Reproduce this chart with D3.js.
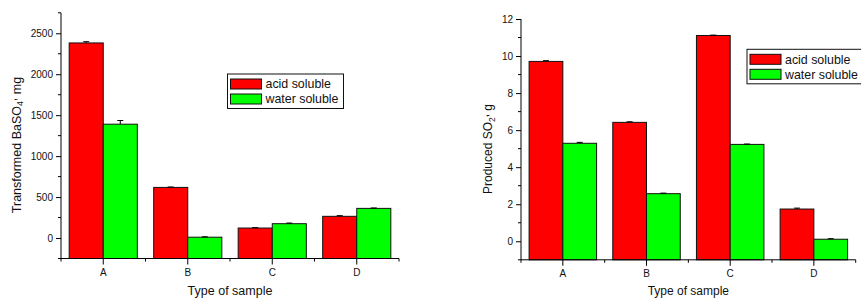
<!DOCTYPE html>
<html>
<head>
<meta charset="utf-8">
<script src="https://cdn.jsdelivr.net/npm/d3@7"></script>
<style>
  html, body { margin: 0; padding: 0; background: #fff; }
  svg { display: block; font-family: "Liberation Sans", Arial, sans-serif; }
</style>
</head>
<body>
<svg id="chart" width="861" height="298"></svg>
<script>
// ---------- data ----------
const categories = ["A", "B", "C", "D"];
const seriesNames = ["acid soluble", "water soluble"];
const seriesColors = ["#ff0000", "#00ff00"];

// Left panel: Transformed BaSO4, mg
const baso4Acid = [2382, 618, 122, 265];
const baso4Water = [1390, 10, 175, 362];
const baso4AcidErr = [15, 5, 5, 8];
const baso4WaterErr = [45, 5, 8, 5];
const baso4Ticks = [0, 500, 1000, 1500, 2000, 2500];
const baso4MinorTicks = [-250, 250, 750, 1250, 1750, 2250, 2750];

// Right panel: Produced SO2, g
const so2Acid = [9.71, 6.42, 11.11, 1.74];
const so2Water = [5.29, 2.57, 5.23, 0.11];
const so2AcidErr = [0.04, 0.03, 0.02, 0.05];
const so2WaterErr = [0.05, 0.03, 0.02, 0.03];
const so2Ticks = [0, 2, 4, 6, 8, 10, 12];
const so2MinorTicks = [-1, 1, 3, 5, 7, 9, 11];

const xTitle = "Type of sample";

// ---------- drawing ----------
const svg = d3.select("#chart");

function drawPanel(p) {
  const g = svg.append("g");
  const x = d3.scaleBand().domain(categories).range([p.x0, p.x1]).padding(0);
  const xs = d3.scaleBand().domain(seriesNames).range([0, x.bandwidth()])
    .paddingInner(0).paddingOuter(0.24);
  const y = d3.scaleLinear().domain(p.domain).range([p.yBottom, p.yTop]);

  const rows = categories.map((c, i) => ({
    cat: c,
    vals: [
      { s: seriesNames[0], v: p.acid[i], e: p.acidErr[i], col: seriesColors[0] },
      { s: seriesNames[1], v: p.water[i], e: p.waterErr[i], col: seriesColors[1] }
    ]
  }));

  const grp = g.selectAll("g.cat").data(rows).join("g")
    .attr("transform", d => `translate(${x(d.cat)},0)`);

  grp.selectAll("rect").data(d => d.vals).join("rect")
    .attr("x", d => xs(d.s))
    .attr("width", xs.bandwidth())
    .attr("y", d => y(d.v))
    .attr("height", d => y(p.domain[0]) - y(d.v))
    .attr("fill", d => d.col)
    .attr("stroke", "#111")
    .attr("stroke-width", 1);

  // error bars (upper half visible)
  const eb = grp.selectAll("g.err").data(d => d.vals).join("g");
  eb.append("line")
    .attr("x1", d => xs(d.s) + xs.bandwidth() / 2)
    .attr("x2", d => xs(d.s) + xs.bandwidth() / 2)
    .attr("y1", d => y(d.v))
    .attr("y2", d => y(d.v + d.e))
    .attr("stroke", "#000").attr("stroke-width", 1);
  eb.append("line")
    .attr("x1", d => xs(d.s) + xs.bandwidth() / 2 - 3)
    .attr("x2", d => xs(d.s) + xs.bandwidth() / 2 + 3)
    .attr("y1", d => y(d.v + d.e))
    .attr("y2", d => y(d.v + d.e))
    .attr("stroke", "#000").attr("stroke-width", 1);

  // y axis
  const ya = g.append("g").attr("transform", `translate(${p.x0},0)`)
    .call(d3.axisLeft(y).tickValues(p.ticks).tickSize(5).tickPadding(3).tickFormat(d3.format("d")));
  ya.select(".domain").attr("d", `M0,${y(p.domain[0])}V${y(p.domain[1])}`).attr("stroke", "#000");
  ya.selectAll(".tick text").attr("font-size", "10px").attr("fill", "#111")
    .attr("font-family", '"Liberation Sans", Arial, sans-serif');
  ya.selectAll(".tick line").attr("stroke", "#000");
  g.append("g").selectAll("line").data(p.minor).join("line")
    .attr("x1", p.x0 - 3).attr("x2", p.x0)
    .attr("y1", d => y(d)).attr("y2", d => y(d))
    .attr("stroke", "#000");

  // x axis
  const xa = g.append("g").attr("transform", `translate(0,${y(p.domain[0])})`)
    .call(d3.axisBottom(x).tickSize(6).tickPadding(4));
  xa.select(".domain").attr("d", `M${p.x0},0H${p.x1}`).attr("stroke", "#000");
  xa.selectAll(".tick text").attr("font-size", "10px").attr("fill", "#111")
    .attr("font-family", '"Liberation Sans", Arial, sans-serif');
  xa.selectAll(".tick line").attr("stroke", "#000");
  const edges = categories.map(c => x(c)).concat([x(categories[categories.length - 1]) + x.bandwidth()]);
  xa.append("g").selectAll("line").data(edges).join("line")
    .attr("x1", d => d).attr("x2", d => d)
    .attr("y1", 0).attr("y2", 3)
    .attr("stroke", "#000");

  // x title
  g.append("text")
    .attr("x", (p.x0 + p.x1) / 2).attr("y", 295)
    .attr("text-anchor", "middle")
    .attr("font-size", p.titleSize + "px").attr("fill", "#111")
    .text(xTitle);

  // y title
  const yt = g.append("text")
    .attr("transform", `translate(${p.yTitleX},${p.yTitleY}) rotate(-90)`)
    .attr("text-anchor", "middle")
    .attr("font-size", p.titleSize + "px").attr("fill", "#111");
  yt.append("tspan").text(p.yTitleA);
  yt.append("tspan").attr("font-size", "0.7em").attr("dy", "0.3em").text(p.yTitleSub);
  yt.append("tspan").attr("dy", "-0.55em").text(",");
  yt.append("tspan").attr("dy", "0.35em").text(p.yTitleB);

  // legend
  const lg = g.append("g").attr("transform", `translate(${p.legX},${p.legY})`);
  lg.append("rect").attr("x", 0).attr("y", 0).attr("width", 116).attr("height", 34.5)
    .attr("fill", "#fff").attr("stroke", "#111").attr("stroke-width", 1);
  seriesNames.forEach((s, i) => {
    lg.append("rect").attr("x", 3).attr("y", 5 + i * 15).attr("width", 31).attr("height", 10)
      .attr("fill", seriesColors[i]).attr("stroke", "#111").attr("stroke-width", 1);
    lg.append("text").attr("x", 38).attr("y", 10 + i * 15).attr("dy", "0.36em")
      .attr("font-size", "12.4px").attr("fill", "#111").text(s);
  });
}

drawPanel({
  x0: 61, x1: 399, yTop: 12.8, yBottom: 258.5, domain: [-250, 2750],
  acid: baso4Acid, water: baso4Water, acidErr: baso4AcidErr, waterErr: baso4WaterErr,
  ticks: baso4Ticks, minor: baso4MinorTicks,
  titleSize: 12.5, yTitleX: 20.7, yTitleY: 145,
  yTitleA: "Transformed BaSO", yTitleSub: "4", yTitleB: " mg",
  legX: 227.5, legY: 74
});

drawPanel({
  x0: 521, x1: 855.7, yTop: 19, yBottom: 259.8, domain: [-1, 12],
  acid: so2Acid, water: so2Water, acidErr: so2AcidErr, waterErr: so2WaterErr,
  ticks: so2Ticks, minor: so2MinorTicks,
  titleSize: 12, yTitleX: 492, yTitleY: 149,
  yTitleA: "Produced SO", yTitleSub: "2", yTitleB: " g",
  legX: 747, legY: 49.3
});
</script>
</body>
</html>
